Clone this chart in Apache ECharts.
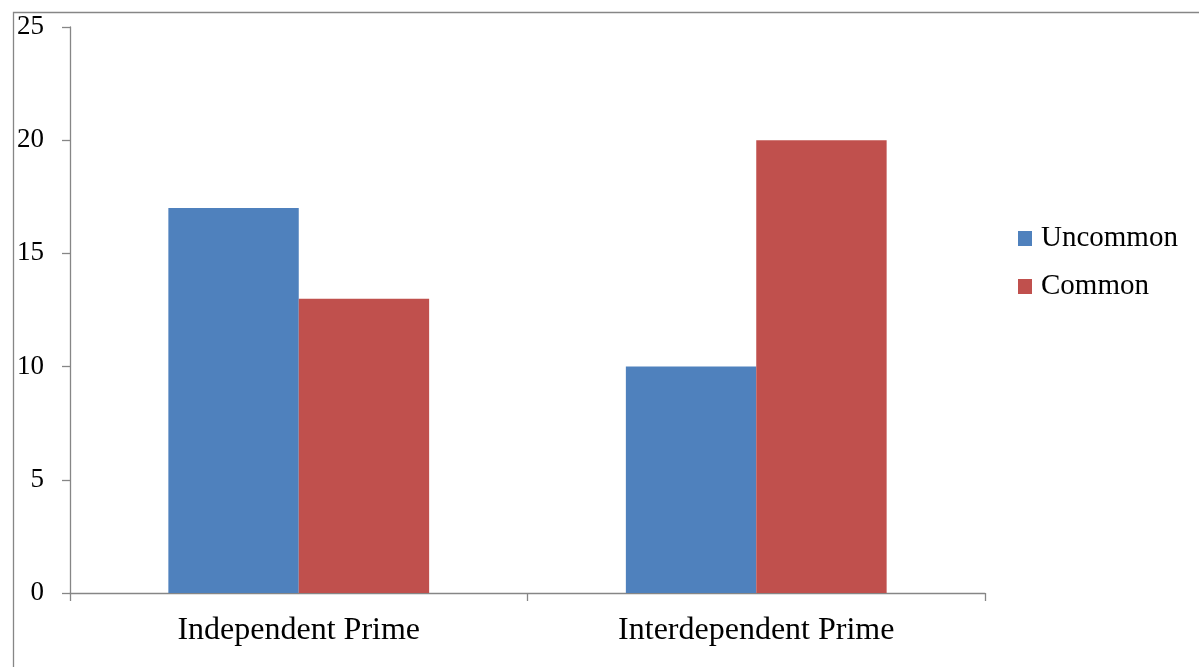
<!DOCTYPE html>
<html>
<head>
<meta charset="utf-8">
<script src="https://cdn.jsdelivr.net/npm/echarts@6/dist/echarts.min.js"></script>
<style>html,body{margin:0;padding:0;background:#fff}#c{width:1199px;height:667px}</style>
</head>
<body>
<div id="c"></div>
<script>
const categories = ['Independent Prime', 'Interdependent Prime'];
const uncommon = [17, 10];
const common = [13, 20];
const yTicks = [0, 5, 10, 15, 20, 25];

const chart = echarts.init(document.getElementById('c'), null, {renderer: 'canvas'});
const font = 'Liberation Serif, Times New Roman, serif';
chart.setOption({
  animation: false,
  backgroundColor: '#fff',
  graphic: [{
    type: 'rect', left: 11, top: 10,
    shape: {width: 1300, height: 800},
    style: {fill: 'none', stroke: '#868686', lineWidth: 1.3},
    silent: true
  }],
  grid: {left: 70, top: 27, right: 214, bottom: 74},
  legend: {
    orient: 'vertical', left: 1018, top: 224, padding: 0,
    icon: 'rect',
    itemWidth: 14, itemHeight: 15, itemGap: 19,
    textStyle: {fontFamily: font, fontSize: 29, color: '#000', padding: [0, 0, 0, 4]},
    data: ['Uncommon', 'Common']
  },
  xAxis: {
    type: 'category', data: categories,
    axisLine: {lineStyle: {color: '#868686', width: 1.3}},
    axisTick: {show: true, length: 8, lineStyle: {color: '#868686', width: 1.3}},
    axisLabel: {fontFamily: font, fontSize: 32, color: '#000', margin: 22}
  },
  yAxis: {
    type: 'value', min: yTicks[0], max: yTicks[yTicks.length - 1], interval: 5,
    splitLine: {show: false},
    axisLine: {show: true, lineStyle: {color: '#868686', width: 1.3}},
    axisTick: {show: true, length: 8, lineStyle: {color: '#868686', width: 1.3}},
    axisLabel: {fontFamily: font, fontSize: 27, color: '#000', margin: 26}
  },
  series: [
    {name: 'Uncommon', type: 'bar', data: uncommon, itemStyle: {color: '#4F81BD'}, barGap: '0%', barCategoryGap: '43%'},
    {name: 'Common', type: 'bar', data: common, itemStyle: {color: '#C0504D'}, barGap: '0%', barCategoryGap: '43%'}
  ]
});
</script>
</body>
</html>
